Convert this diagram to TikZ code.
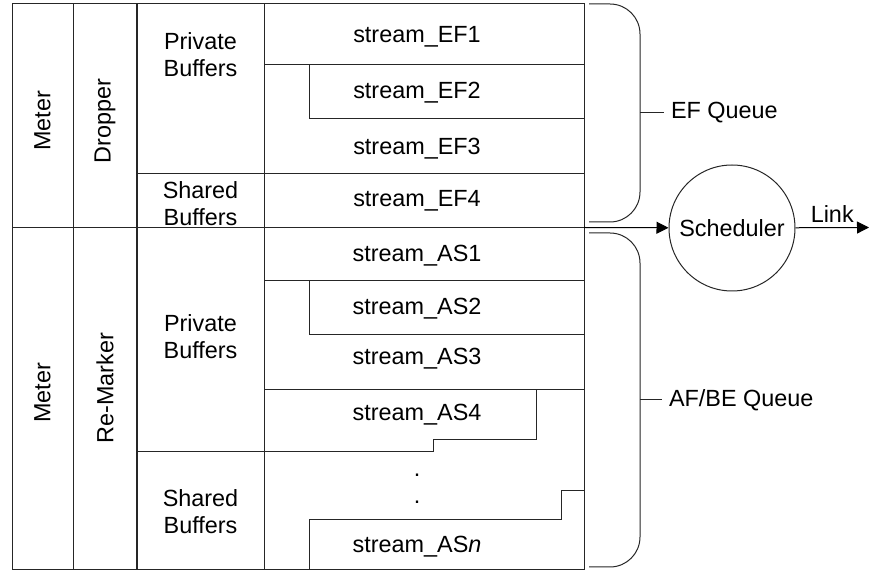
\documentclass[tikz,border=0pt]{standalone}
\usepackage{fontspec}
\setmainfont{Liberation Sans}
\usetikzlibrary{arrows.meta}

\begin{document}
\begin{tikzpicture}[x=0.5pt,y=-0.5pt,
        font=\fontsize{11.7}{13.6}\selectfont,
        grid/.style={draw=black!85,line width=0.5pt},
        arr/.style={-{Triangle[length=6pt,width=6pt]},line width=0.5pt},
        vlabel/.style={rotate=90},
        cell/.style={align=center}]
        \useasboundingbox (0,0) rectangle (869,571);
        \draw[grid] (12,3.5) rectangle (584,570);
        \draw[grid] (73,3.5) -- (73,570);
        \draw[grid,line width=1.1pt] (137,3.5) -- (137,570);
        \draw[grid] (264,3.5) -- (264,570);
        \draw[grid] (12,227.5) -- (584,227.5);
        \draw[grid] (264,65) -- (584,65);
        \draw[grid] (309,65) -- (309,119) -- (584,119);
        \draw[grid] (137,174) -- (584,174);
        \draw[grid] (264,281) -- (584,281);
        \draw[grid] (309,281) -- (309,335) -- (584,335);
        \draw[grid] (264,390) -- (584,390);
        \draw[grid] (536,390) -- (536,440) -- (433,440) -- (433,452) -- (137,452);
        \draw[grid] (584,491) -- (561,491) -- (561,520) -- (309,520) -- (309,570);
        \node[vlabel] (meterEF) at (42.5,121) {Meter};
        \node[vlabel] (dropper) at (105,121) {Dropper};
        \node[vlabel] (meterAS) at (42.5,393) {Meter};
        \node[vlabel] (remarker) at (105,388) {Re-Marker};
        \node[cell] (privEF) at (200.5,55) {Private\\Buffers};
        \node[cell] (sharedEF) at (200.5,204) {Shared\\Buffers};
        \node[cell] (privAS) at (200.5,337) {Private\\Buffers};
        \node[cell] (sharedAS) at (200.5,512) {Shared\\Buffers};
        \foreach \name/\y in {EF1/37,EF2/93,EF3/149,EF4/201,AS1/256,AS2/309,AS3/359,AS4/415}
            \node (s\name) at (417,\y) {stream\_\name};
        \node (sASn) at (417,547) {stream\_AS\textit{n}};
        \node (dotA) at (417,475) {.};
        \node (dotB) at (417,502) {.};
        \draw[grid,rounded corners=15pt] (589,4) -- (640,4) -- (640,222) -- (589,222);
        \draw[grid,rounded corners=15pt] (589,233) -- (640,233) -- (640,567) -- (589,567);
        \coordinate (braceEF) at (640,113);
        \coordinate (braceAS) at (640,400);
        \node[anchor=west] (efq) at (664,113) {EF Queue};
        \node[anchor=west] (asq) at (662,400) {AF/BE Queue};
        \draw[grid] (braceEF) -- (efq.west);
        \draw[grid] (braceAS) -- (asq.west);
        \node[circle,draw=black!85,line width=0.5pt,minimum size=63pt,inner sep=0pt] (sched) at (732,228) {Scheduler};
        \coordinate (boxout) at (584,227.5);
        \coordinate (linkend) at (869,227.5);
        \draw[arr] (boxout) -- (sched);
        \draw[arr] (sched) -- (linkend) node[midway,above=-1pt] (link) {Link};
\end{tikzpicture}
\end{document}
